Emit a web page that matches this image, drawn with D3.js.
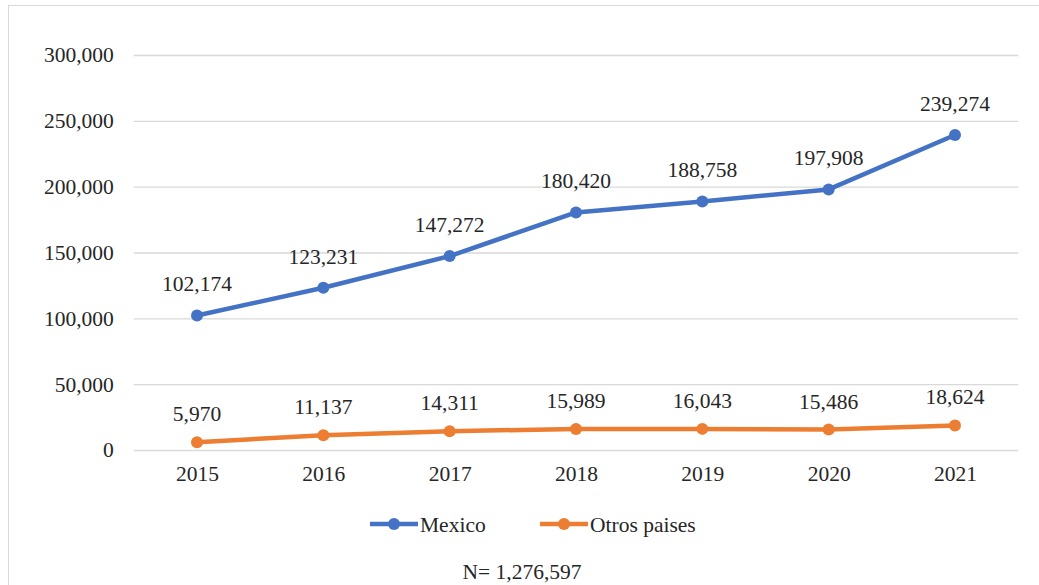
<!DOCTYPE html>
<html>
<head>
<meta charset="utf-8">
<script src="https://cdn.jsdelivr.net/npm/d3@7"></script>
<style>
  body { margin: 0; background: #fff; }
</style>
</head>
<body>
<svg id="chart" width="1039" height="585"></svg>
<script>
// data
let years = ["2015", "2016", "2017", "2018", "2019", "2020", "2021"]
let mexico = [102174, 123231, 147272, 180420, 188758, 197908, 239274]
let otros = [5970, 11137, 14311, 15989, 16043, 15486, 18624]
let yTicks = [0, 50000, 100000, 150000, 200000, 250000, 300000]
let seriesNames = ["Mexico", "Otros paises"]
let seriesColors = ["#4472C4", "#ED7D31"]
let totalLabel = "N= 1,276,597"

let svg = d3.select("#chart")
    .attr("font-family", "Liberation Serif")
let fmt = d3.format(",")
let labelFont = "Liberation Serif"
let labelSize = 21.5
let textColor = "#262626"

function styleText(sel) {
    return sel.attr("font-family", labelFont)
        .attr("font-size", labelSize)
        .attr("fill", textColor)
}

// chart border
svg.append("rect")
    .attr("x", 8.5).attr("y", 5.5)
    .attr("width", 1040).attr("height", 600)
    .attr("fill", "none")
    .attr("stroke", "#d9d9d9")

let x = d3.scalePoint()
    .domain(years)
    .range([197, 955])
let y = d3.scaleLinear()
    .domain([0, 300000])
    .range([450, 55])

let step = x.step()
let left = x(years[0]) - step/2
let right = x(years[years.length - 1]) + step/2

// y axis, gridlines
let yAxis = svg.append("g")
    .attr("transform", `translate(${left},0)`)
    .call(d3.axisLeft(y).tickValues(yTicks).tickFormat(fmt).tickSize(-(right - left)).tickPadding(20))
yAxis.attr("font-family", labelFont)
yAxis.select(".domain").remove()
yAxis.selectAll(".tick line").attr("stroke", "#d9d9d9").attr("stroke-width", 1.3)
styleText(yAxis.selectAll(".tick text"))

// x axis
let xAxis = svg.append("g")
    .attr("transform", `translate(0,${y(0)})`)
    .call(d3.axisBottom(x).tickSize(0).tickPadding(16))
xAxis.attr("font-family", labelFont)
xAxis.select(".domain").remove()
styleText(xAxis.selectAll(".tick text"))

let series = [
    {name: seriesNames[0], values: mexico, color: seriesColors[0], labelDy: -24},
    {name: seriesNames[1], values: otros, color: seriesColors[1], labelDy: -21},
]

let line = d3.line()
    .x((d, i) => x(years[i]))
    .y(d => y(d))

for (let s of series) {
    let g = svg.append("g")
    g.append("path")
        .attr("d", line(s.values))
        .attr("fill", "none")
        .attr("stroke", s.color)
        .attr("stroke-width", 4.5)
        .attr("stroke-linejoin", "round")
    g.selectAll("circle")
        .data(s.values)
        .join("circle")
            .attr("cx", (d, i) => x(years[i]))
            .attr("cy", d => y(d))
            .attr("r", 6)
            .attr("fill", s.color)
    g.selectAll("text")
        .data(s.values)
        .join("text")
            .attr("x", (d, i) => x(years[i]))
            .attr("y", d => y(d) + s.labelDy)
            .attr("text-anchor", "middle")
            .text(d => fmt(d))
            .call(styleText)
}

// legend
let legendX = [370, 540]
let legend = svg.append("g")
    .selectAll("g")
    .data(series)
    .join("g")
        .attr("transform", (d, i) => `translate(${legendX[i]},524)`)
legend.append("line")
    .attr("x1", 0).attr("x2", 48)
    .attr("stroke", d => d.color)
    .attr("stroke-width", 4.5)
legend.append("circle")
    .attr("cx", 24).attr("r", 6)
    .attr("fill", d => d.color)
legend.append("text")
    .attr("x", 50)
    .attr("dy", "0.35em")
    .text(d => d.name)
    .call(styleText)

svg.append("text")
    .attr("x", 522)
    .attr("y", 571)
    .attr("dy", "0.35em")
    .attr("text-anchor", "middle")
    .text(totalLabel)
    .call(styleText)
</script>
</body>
</html>
